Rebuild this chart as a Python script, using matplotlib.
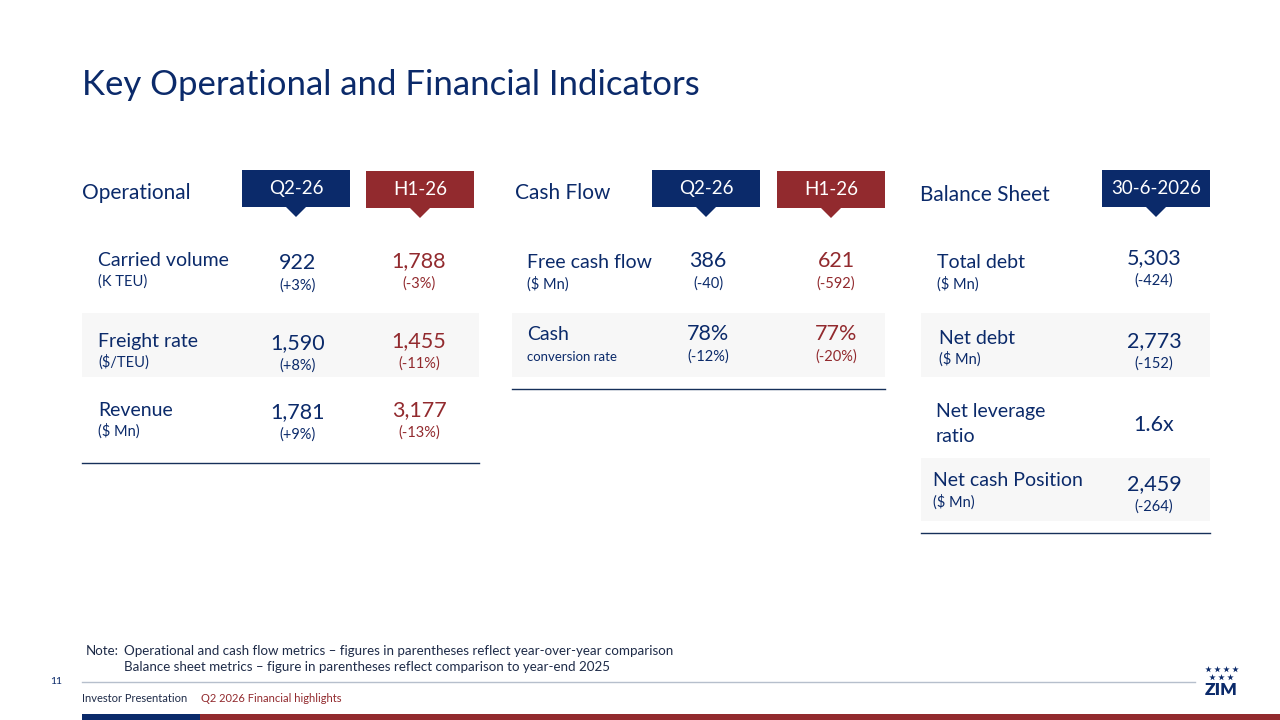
import matplotlib as mpl
from matplotlib import pyplot as plt
from matplotlib.patches import Rectangle, Polygon

NAVY = "#0b2a6a"
RED = "#922a2e"
GREY_ROW = "#f7f7f7"
RULE = "#16305a"
FONT = ["Lato", "DejaVu Sans"]

TITLE = "Key Operational and Financial Indicators"

OPS_LABELS = [("Carried volume", "(K TEU)"), ("Freight rate", "($/TEU)"), ("Revenue", "($ Mn)")]
OPS_Q2 = ["922", "1,590", "1,781"]
OPS_Q2_CHG = ["(+3%)", "(+8%)", "(+9%)"]
OPS_H1 = ["1,788", "1,455", "3,177"]
OPS_H1_CHG = ["(-3%)", "(-11%)", "(-13%)"]

CF_LABELS = [("Free cash flow", "($ Mn)"), ("Cash", "conversion rate")]
CF_Q2 = ["386", "78%"]
CF_Q2_CHG = ["(-40)", "(-12%)"]
CF_H1 = ["621", "77%"]
CF_H1_CHG = ["(-592)", "(-20%)"]

BS_LABELS = [("Total debt", "($ Mn)"), ("Net debt", "($ Mn)"),
             ("Net leverage", "ratio"), ("Net cash Position", "($ Mn)")]
BS_VALUES = ["5,303", "2,773", "1.6x", "2,459"]
BS_CHG = ["(-424)", "(-152)", "", "(-264)"]

NOTE_LINES = [
    "Operational and cash flow metrics \u2013 figures in parentheses reflect year-over-year comparison",
    "Balance sheet metrics \u2013 figure in parentheses reflect comparison to year-end 2025",
]


def header_box(ax, x0, x1, y0, y1, color, text):
    ax.add_patch(Rectangle((x0, y0), x1 - x0, y1 - y0, color=color, lw=0))
    cx = (x0 + x1) / 2
    ax.add_patch(Polygon([(cx - 10, y1), (cx + 10, y1), (cx, y1 + 10)], color=color, lw=0))
    ax.text(cx, (y0 + y1) / 2, text, color="white", fontsize=13.5,
            ha="center", va="center", family=FONT)


def label(ax, x, y, main, sub, sub_size=10.5, gap=21):
    ax.text(x, y, main, color=NAVY, fontsize=14, ha="left", va="center", family=FONT)
    ax.text(x, y + gap, sub, color=NAVY, fontsize=sub_size, ha="left", va="center", family=FONT)


def value(ax, x, y, val, chg, color, gap=23):
    ax.text(x, y, val, color=color, fontsize=15.5, ha="center", va="center", family=FONT)
    if chg:
        ax.text(x, y + gap, chg, color=color, fontsize=10.5, ha="center", va="center", family=FONT)


def main():
    fig = plt.figure(figsize=(12.8, 7.2), dpi=100)
    ax = fig.add_axes([0, 0, 1, 1])
    ax.set_xlim(0, 1280)
    ax.set_ylim(720, 0)
    ax.axis("off")

    ax.text(82, 85, TITLE, color=NAVY, fontsize=25, ha="left", va="center", family=FONT)

    # Operational
    ax.text(82, 193, "Operational", color=NAVY, fontsize=15, ha="left", va="center", family=FONT)
    header_box(ax, 242, 350, 170, 207, NAVY, "Q2-26")
    header_box(ax, 366, 474, 171, 208, RED, "H1-26")
    ax.add_patch(Rectangle((82, 313), 397, 64, color=GREY_ROW, lw=0))
    ax.plot([82, 479], [463, 463], color=RULE, lw=1)
    ops_y = [261, 341, 410]
    for i in range(len(OPS_LABELS)):
        label(ax, 98, ops_y[i], *OPS_LABELS[i])
        value(ax, 298, ops_y[i] + 2, OPS_Q2[i], OPS_Q2_CHG[i], NAVY)
        value(ax, 419, ops_y[i], OPS_H1[i], OPS_H1_CHG[i], RED)

    # Cash flow
    ax.text(515, 193, "Cash Flow", color=NAVY, fontsize=15, ha="left", va="center", family=FONT)
    header_box(ax, 652, 760, 170, 207, NAVY, "Q2-26")
    header_box(ax, 777, 885, 171, 208, RED, "H1-26")
    ax.add_patch(Rectangle((512, 313), 373, 64, color=GREY_ROW, lw=0))
    ax.plot([512, 885], [389, 389], color=RULE, lw=1)
    cf_y = [262, 335]
    cf_sub = [10.5, 9.5]
    for i in range(len(CF_LABELS)):
        label(ax, 527, cf_y[i], *CF_LABELS[i], sub_size=cf_sub[i], gap=22)
        value(ax, 708, cf_y[i] - 1, CF_Q2[i], CF_Q2_CHG[i], NAVY)
        value(ax, 836, cf_y[i] - 1, CF_H1[i], CF_H1_CHG[i], RED)

    # Balance sheet
    ax.text(920, 195, "Balance Sheet", color=NAVY, fontsize=15, ha="left", va="center", family=FONT)
    header_box(ax, 1102, 1210, 170, 207, NAVY, "30-6-2026")
    ax.add_patch(Rectangle((921, 313), 289, 64, color=GREY_ROW, lw=0))
    ax.add_patch(Rectangle((921, 458), 289, 63, color=GREY_ROW, lw=0))
    ax.plot([921, 1210], [533, 533], color=RULE, lw=1)
    bs_y = [263, 338, 412, 481]
    bs_x = [937, 939, 936, 933]
    bs_gap = [21, 21, 25, 21]
    bs_sub = [10.5, 10.5, 14, 10.5]
    val_y = [258, 341, 425, 484]
    for i in range(len(BS_LABELS)):
        label(ax, bs_x[i], bs_y[i], *BS_LABELS[i], sub_size=bs_sub[i], gap=bs_gap[i])
        value(ax, 1154, val_y[i], BS_VALUES[i], BS_CHG[i], NAVY)

    # Note and footer
    ax.text(86, 651, "Note:", color="#1e2b48", fontsize=9.6, ha="left", va="center", family=FONT)
    for j, line in enumerate(NOTE_LINES):
        ax.text(124, 651 + 16 * j, line, color="#1e2b48", fontsize=9.6,
                ha="left", va="center", family=FONT)
    ax.text(50, 681, "11", color=NAVY, fontsize=7.5, ha="left", va="center", family=FONT)
    ax.plot([82, 1195], [682, 682], color="#b6bfcc", lw=1)
    ax.text(82, 699, "Investor Presentation", color="#1e2b48", fontsize=8,
            ha="left", va="center", family=FONT)
    ax.text(201, 699, "Q2 2026 Financial highlights", color=RED, fontsize=8,
            ha="left", va="center", family=FONT)
    ax.add_patch(Rectangle((82, 714), 118, 6, color=NAVY, lw=0))
    ax.add_patch(Rectangle((200, 714), 1080, 6, color=RED, lw=0))

    # logo
    ax.scatter([1208, 1217, 1226, 1235], [669] * 4, marker="*", s=24, color=NAVY, lw=0)
    ax.scatter([1212, 1221, 1230], [677] * 3, marker="*", s=24, color=NAVY, lw=0)
    ax.text(1221, 690, "ZIM", color=NAVY, fontsize=12.5, fontweight="heavy",
            ha="center", va="center", family=FONT)

    fig.savefig("out.png", dpi=100)
    plt.close(fig)


if __name__ == "__main__":
    main()
